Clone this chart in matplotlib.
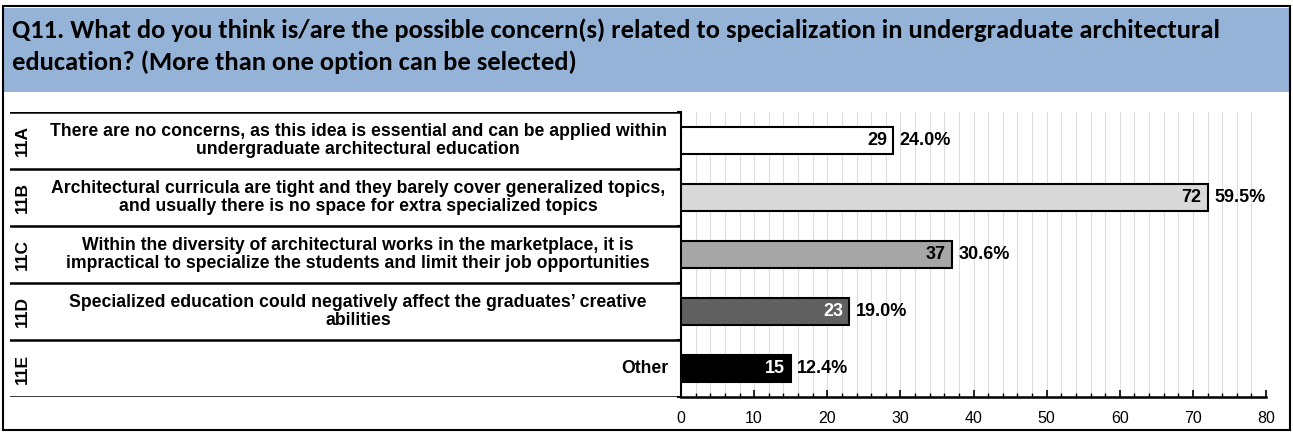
import numpy as np
import matplotlib.pyplot as plt
from matplotlib.patches import Rectangle
from matplotlib.ticker import MultipleLocator

title = ("Q11. What do you think is/are the possible concern(s) related to specialization in undergraduate architectural\n"
         "education? (More than one option can be selected)")
codes = ['11A', '11B', '11C', '11D', '11E']
labels = [
    "There are no concerns, as this idea is essential and can be applied within\nundergraduate architectural education",
    "Architectural curricula are tight and they barely cover generalized topics,\nand usually there is no space for extra specialized topics",
    "Within the diversity of architectural works in the marketplace, it is\nimpractical to specialize the students and limit their job opportunities",
    "Specialized education could negatively affect the graduates\u2019 creative\nabilities",
    "Other",
]
counts = [29, 72, 37, 23, 15]
pcts = [24.0, 59.5, 30.6, 19.0, 12.4]
bar_colors = ['#FFFFFF', '#D9D9D9', '#A6A6A6', '#606060', '#000000']
count_colors = ['black', 'black', 'black', 'white', 'white']

W, H = 1293, 432
narrow = ['Liberation Sans Narrow', 'Liberation Sans', 'DejaVu Sans']

fig = plt.figure(figsize=(W / 100, H / 100), dpi=100)

def fx(px):
    return px / W

def fy(py):
    return 1 - py / H

# outer frame and title band
fig.patches.append(Rectangle((fx(4), fy(92)), fx(1286), (92 - 8) / H, transform=fig.transFigure,
                             facecolor='#95B3D7', edgecolor='none', zorder=0))
fig.patches.append(Rectangle((fx(3), fy(430)), fx(1287), (430 - 6) / H, transform=fig.transFigure,
                             facecolor='none', edgecolor='black', lw=1.5, zorder=5))
fig.text(fx(12), fy(46), title, ha='left', va='center', fontsize=19.1, fontweight='bold',
         family=['Carlito', 'Lato', 'DejaVu Sans'], linespacing=1.42)

# main bar axes
ax = fig.add_axes([fx(681), fy(397), fx(1266 - 681), (397 - 112) / H])
y = np.arange(len(counts))
ax.barh(y, counts, height=0.47, color=bar_colors, edgecolor='black', linewidth=1.5, zorder=3)
for i in range(len(counts)):
    ax.text(counts[i] - 0.8, y[i], str(counts[i]), ha='right', va='center', fontsize=13,
            fontweight='bold', color=count_colors[i], family=narrow, zorder=4)
    ax.text(counts[i] + 0.9, y[i], f"{pcts[i]:.1f}%", ha='left', va='center', fontsize=13,
            fontweight='bold', color='black', family=narrow, zorder=4)

ax.set_xlim(0, 80)
ax.set_ylim(4.5, -0.5)
ax.xaxis.set_major_locator(MultipleLocator(10))
ax.xaxis.set_minor_locator(MultipleLocator(2))
ax.grid(axis='x', which='both', color='#DDDDDD', lw=0.8, zorder=0)
ax.set_yticks(np.arange(-0.5, 5, 1))
ax.set_yticklabels([])
ax.tick_params(axis='y', direction='out', length=3, width=1.5)
ax.tick_params(axis='x', which='major', direction='in', length=5, width=1.2, labelsize=11.5, pad=10)
ax.tick_params(axis='x', which='minor', direction='in', length=3, width=1.0)
for lab in ax.get_xticklabels():
    lab.set_family(narrow)
for s in ['top', 'right']:
    ax.spines[s].set_visible(False)
ax.spines['left'].set_linewidth(1.5)
ax.spines['bottom'].set_linewidth(1.8)

# label panel
lx = fig.add_axes([fx(10), fy(397), fx(681 - 10), (397 - 112) / H], sharey=ax)
lx.set_xlim(10, 681)
lx.axis('off')
for b in np.arange(-0.5, 5, 1):
    lx.axhline(b, color='black', lw=1.8)
for i in range(len(codes)):
    lx.text(22, y[i], codes[i], rotation=90, ha='center', va='center', fontsize=12.5,
            fontweight='bold', family=narrow)
    if labels[i] == 'Other':
        lx.text(668, y[i], labels[i], ha='right', va='center', fontsize=12.7,
                fontweight='bold', family=narrow)
    else:
        lx.text(358, y[i], labels[i], ha='center', va='center', fontsize=12.7,
                fontweight='bold', family=narrow, linespacing=1.1)

fig.savefig('out.png', dpi=100)
